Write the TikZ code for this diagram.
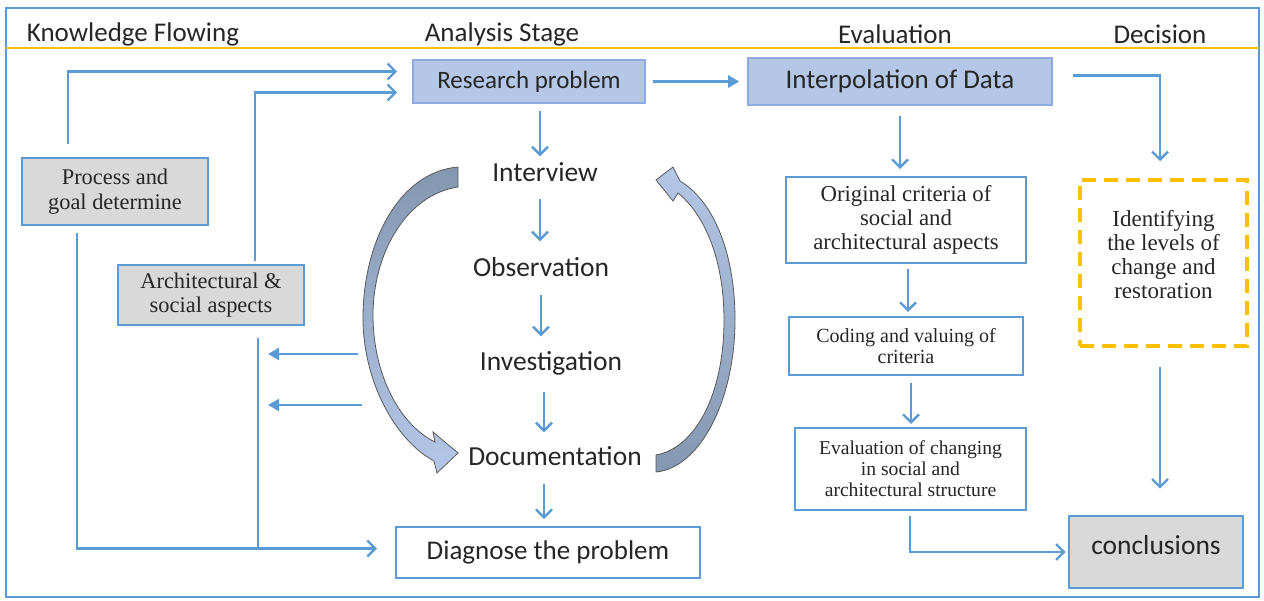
\documentclass[tikz,border=0pt]{standalone}
\usepackage{fontspec}
\setmainfont{Liberation Serif}
\newfontfamily\calibri{Carlito}
\usetikzlibrary{arrows.meta}
\definecolor{lineblue}{HTML}{5B9BD5}
\definecolor{boxblue}{HTML}{B4C7E7}
\definecolor{boxedge}{HTML}{8FAADC}
\definecolor{boxgray}{HTML}{D9D9D9}
\definecolor{gold}{HTML}{FFC000}
\definecolor{slate}{HTML}{8497B0}
\definecolor{ink}{HTML}{262626}
\begin{document}
\begin{tikzpicture}[x=1pt,y=-1pt,text=ink,
	flow/.style={draw=lineblue,line width=2.4pt},
	vee/.style={flow,-{Straight Barb[length=8pt,width=16pt]}},
	tri/.style={flow,-{Triangle[length=11pt,width=12pt]}},
	head/.style={font=\calibri\fontsize{27}{30}\selectfont},
	stage/.style={font=\calibri\fontsize{27.5}{30}\selectfont,inner sep=2pt,text height=19pt,text depth=6pt},
	bluebox/.style={draw=boxedge,line width=1.6pt,fill=boxblue,font=\calibri\fontsize{25}{28}\selectfont},
	graybox/.style={draw=lineblue,line width=2pt,fill=boxgray,align=center,font=\fontsize{22.4}{24.5}\selectfont},
	whitebox/.style={draw=lineblue,line width=2pt,fill=white,align=center,font=\fontsize{22.8}{24}\selectfont},
	curl/.style={draw=black!65,line width=0.8pt}]
	\useasboundingbox (0,0) rectangle (1264,600);
	% frame and header row
	\draw[lineblue,line width=1.6pt] (6,8) rectangle (1259,597);
	\draw[gold,line width=2pt] (6,48) -- (1259,48);
	\node[head] (hknow) at (133,34) {Knowledge Flowing};
	\node[head] (hanal) at (502,34) {Analysis Stage};
	\node[head] (heval) at (895,34) {Evaluation};
	\node[head] (hdec) at (1160,34) {Decision};
	% analysis stage
	\node[bluebox,minimum width=232pt,minimum height=43pt] (research) at (529,81.5) {Research problem};
	\node[stage] (interview) at (545,175) {Interview};
	\node[stage] (observation) at (541,270) {Observation};
	\node[stage] (investigation) at (551,364) {Investigation};
	\node[stage] (documentation) at (555,459) {Documentation};
	\node[whitebox,minimum width=304pt,minimum height=51pt,font=\calibri\fontsize{27}{30}\selectfont] (diagnose) at (548,552.5) {Diagnose the problem};
	% knowledge flowing
	\node[graybox,minimum width=186pt,minimum height=67pt] (process) at (115,191.5) {Process and\\goal determine};
	\node[graybox,minimum width=186pt,minimum height=60pt] (archsoc) at (211,295) {Architectural \&\\social aspects};
	% evaluation
	\node[bluebox,minimum width=304pt,minimum height=47pt,font=\calibri\fontsize{27}{30}\selectfont] (interp) at (900,81.5) {Interpolation of Data};
	\node[whitebox,minimum width=240pt,minimum height=86pt] (original) at (906,220) {Original criteria of\\social and\\architectural aspects};
	\node[whitebox,minimum width=234pt,minimum height=58pt,font=\fontsize{20}{21}\selectfont] (coding) at (906,346) {Coding and valuing of\\criteria};
	\node[whitebox,minimum width=231pt,minimum height=82pt,font=\fontsize{19.6}{21}\selectfont] (evalchange) at (910.5,469) {Evaluation of changing\\in social and\\architectural structure};
	% decision
	\node[draw=gold,line width=3.5pt,dash pattern=on 14pt off 8pt,minimum width=167pt,minimum height=166pt,align=center,font=\fontsize{23}{24}\selectfont] (identify) at (1163.5,263) {Identifying\\the levels of\\change and\\restoration\\[-6pt]};
	\node[graybox,line width=2.6pt,minimum width=174pt,minimum height=72pt,font=\calibri\fontsize{27.5}{30}\selectfont] (concl) at (1156,552) {conclusions\\[-16pt]};
	% curved block arrows
	\draw[curl,top color=slate,bottom color=boxblue]
	(458,167) .. controls (400,172) and (364,240) .. (363,315)
	.. controls (362,380) and (395,440) .. (434,461)
	-- (437,473) -- (458,453) -- (433,432) -- (435,442)
	.. controls (400,425) and (373,375) .. (373,315)
	.. controls (373,255) and (405,195) .. (458,187) -- cycle;
	\draw[curl,top color=boxblue,bottom color=slate]
	(656,472) .. controls (700,468) and (735,400) .. (735,320)
	.. controls (735,250) and (712,200) .. (680,181)
	-- (673,167) -- (656,180) -- (673,201) -- (678,193)
	.. controls (705,215) and (724,260) .. (724,320)
	.. controls (724,395) and (695,448) .. (656,455) -- cycle;
	% connectors
	\draw[vee,shorten <=13pt,shorten >=15pt] ([xshift=-47pt]process.north) |- ([yshift=10pt]research.west);
	\draw[vee,shorten <=3pt,shorten >=15pt] ([xshift=44pt]archsoc.north) |- ([yshift=-11pt]research.west);
	\draw[vee,shorten <=7pt,shorten >=18pt] ([xshift=-38pt]process.south) |- ([yshift=4pt]diagnose.west);
	\coordinate (merge) at (258,548);
	\draw[flow] ([xshift=47pt,yshift=-12pt]archsoc.south) -- (merge);
	\coordinate (backA) at (358,354);
	\coordinate (backB) at (362,405);
	\draw[tri] (backA) -- ++(-90,0);
	\draw[tri] (backB) -- ++(-94,0);
	\draw[vee,shorten <=7pt,shorten >=4pt] ([xshift=11pt]research.south) -- ([xshift=-5pt]interview.north);
	\draw[vee,shorten <=9pt,shorten >=14pt] ([xshift=-5pt]interview.south) -- ([xshift=-1pt]observation.north);
	\draw[vee,shorten <=10pt,shorten >=13pt] (observation.south) -- ([xshift=-10pt]investigation.north);
	\draw[vee,shorten <=13pt,shorten >=12pt] ([xshift=-7pt]investigation.south) -- ([xshift=-11pt]documentation.north);
	\draw[vee,shorten <=10pt,shorten >=7pt] ([xshift=-11pt]documentation.south) -- ([xshift=-4pt]diagnose.north);
	\draw[tri,shorten <=7pt,shorten >=8pt] (research.east) -- (interp.west);
	\draw[vee,shorten <=10pt,shorten >=7pt] (interp.south) -- ([xshift=-6pt]original.north);
	\draw[vee,shorten <=5pt,shorten >=4pt] ([xshift=2pt]original.south) -- ([xshift=2pt]coding.north);
	\draw[vee,shorten <=7pt,shorten >=3pt] ([xshift=5pt]coding.south) -- ([xshift=0.5pt]evalchange.north);
	\draw[vee,shorten <=5pt,shorten >=2pt] ([xshift=-0.5pt]evalchange.south) |- (concl.west);
	\draw[vee,shorten <=20pt,shorten >=17pt] ([yshift=6pt]interp.east) -| ([xshift=-3.5pt]identify.north);
	\draw[vee,shorten <=19pt,shorten >=26pt] ([xshift=-3.5pt]identify.south) -- ([xshift=4pt]concl.north);
\end{tikzpicture}
\end{document}
